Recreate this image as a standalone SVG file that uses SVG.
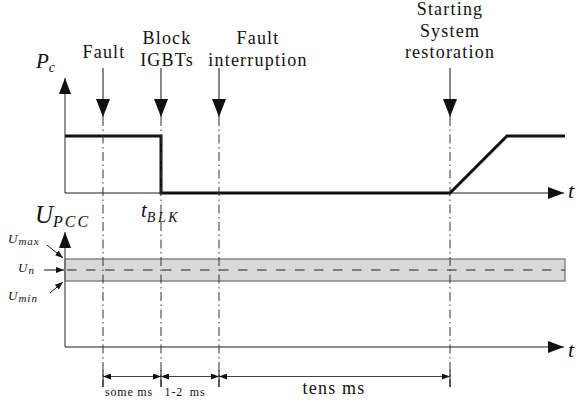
<svg xmlns="http://www.w3.org/2000/svg" width="582" height="405" viewBox="0 0 582 405">
<style>
.lbl{font-family:"Liberation Serif","Times New Roman",serif;font-size:18px;letter-spacing:1.2px;fill:#111;text-anchor:middle}
.math{font-family:"Liberation Serif","Times New Roman",serif;font-style:italic;fill:#111}
.axis{stroke:#666;stroke-width:1.4;fill:none}
.haxis{stroke:#222;stroke-width:1.1;fill:none}
.sig{stroke:#111;stroke-width:3;fill:none;stroke-linejoin:miter}
.evt{stroke:#111;stroke-width:1;fill:none}
.dd{stroke:#333;stroke-width:1;fill:none;stroke-dasharray:9 3.5 1.5 3.5}
.dim{stroke:#444;stroke-width:1.1;fill:none}
.small{font-family:"Liberation Serif","Times New Roman",serif;font-size:12px;letter-spacing:0.8px;fill:#111;text-anchor:middle}
</style>
<defs>
<marker id="mEvt" markerUnits="userSpaceOnUse" viewBox="0 0 18 14" refX="18" refY="7" markerWidth="18" markerHeight="14" orient="auto"><path d="M0,0 L18,7 L0,14 z" fill="#111"/></marker>
<marker id="mAx" markerUnits="userSpaceOnUse" viewBox="0 0 16 12" refX="16" refY="6" markerWidth="16" markerHeight="12" orient="auto"><path d="M0,0 L16,6 L0,12 z" fill="#111"/></marker>
<marker id="mSm" markerUnits="userSpaceOnUse" viewBox="0 0 8 6" refX="8" refY="3" markerWidth="8" markerHeight="6" orient="auto-start-reverse"><path d="M0,0 L8,3 L0,6 z" fill="#111"/></marker>
</defs>
<rect width="582" height="405" fill="#fff"/>

<g id="band">
<rect x="65" y="259" width="500" height="22" fill="#d9d9d9" stroke="#808080" stroke-width="1.4"/>
<line x1="66" y1="270" x2="565" y2="270" stroke="#222" stroke-width="1" stroke-dasharray="9.5 9.5" stroke-dashoffset="-1"/>
</g>

<g id="axes">
<line class="axis" x1="65" y1="193" x2="65" y2="78" marker-end="url(#mAx)"/>
<line class="haxis" x1="65" y1="193" x2="564" y2="193" marker-end="url(#mAx)"/>
<line class="axis" x1="65" y1="347" x2="65" y2="232" marker-end="url(#mAx)"/>
<line class="haxis" x1="65" y1="347" x2="564" y2="347" marker-end="url(#mAx)"/>
</g>

<g id="signal-pc">
<polyline class="sig" points="65,136 161,136 161,193 450,193 507,136 565,136"/>
</g>

<g id="event-lines">
<line class="dd" x1="103" y1="117" x2="103" y2="387"/>
<line class="dd" x1="161" y1="117" x2="161" y2="387"/>
<line class="dd" x1="219" y1="117" x2="219" y2="387"/>
<line class="dd" x1="450" y1="117" x2="450" y2="387"/>
<line class="evt" x1="103" y1="370" x2="103" y2="387"/>
<line class="evt" x1="161" y1="370" x2="161" y2="387"/>
<line class="evt" x1="219" y1="370" x2="219" y2="387"/>
<line class="evt" x1="450" y1="370" x2="450" y2="387"/>
</g>

<g id="connectors">
<line class="evt" x1="103" y1="68" x2="103" y2="117" marker-end="url(#mEvt)"/>
<line class="evt" x1="161" y1="68" x2="161" y2="117" marker-end="url(#mEvt)"/>
<line class="evt" x1="219" y1="68" x2="219" y2="117" marker-end="url(#mEvt)"/>
<line class="evt" x1="450" y1="68" x2="450" y2="117" marker-end="url(#mEvt)"/>
<line class="evt" x1="47" y1="245" x2="63" y2="258" marker-end="url(#mSm)"/>
<line class="evt" x1="44" y1="270" x2="64" y2="270" marker-end="url(#mSm)"/>
<line class="evt" x1="50" y1="293" x2="63" y2="282" marker-end="url(#mSm)"/>
<line class="dim" x1="103" y1="376.5" x2="161" y2="376.5" marker-start="url(#mSm)" marker-end="url(#mSm)"/>
<line class="dim" x1="161" y1="376.5" x2="219" y2="376.5" marker-start="url(#mSm)" marker-end="url(#mSm)"/>
<line class="dim" x1="219" y1="376.5" x2="450" y2="376.5" marker-start="url(#mSm)" marker-end="url(#mSm)"/>
</g>

<g id="fault">
<text class="lbl" x="104" y="58">Fault</text>
</g>
<g id="block-igbts">
<text class="lbl" x="167" y="44">Block</text>
<text class="lbl" x="167" y="66">IGBTs</text>
</g>
<g id="fault-interruption">
<text class="lbl" x="258" y="44">Fault</text>
<text class="lbl" x="258" y="66">interruption</text>
</g>
<g id="restoration">
<text class="lbl" x="450" y="15">Starting</text>
<text class="lbl" x="450" y="37">System</text>
<text class="lbl" x="450" y="58">restoration</text>
</g>

<g id="axis-labels">
<text class="math" x="36" y="68" font-size="21">P<tspan font-size="14" dy="4">c</tspan></text>
<text class="math" x="35" y="223" font-size="25">U<tspan font-size="16" dy="4" letter-spacing="2">PCC</tspan></text>
<text class="math" x="141" y="217" font-size="21">t<tspan font-size="14" dy="5" letter-spacing="2.5">BLK</tspan></text>
<text class="math" x="568" y="198" font-size="22">t</text>
<text class="math" x="568" y="357" font-size="22">t</text>
<text class="math" x="8" y="243" font-size="13" letter-spacing="1">U<tspan font-size="11" dy="2">max</tspan></text>
<text class="math" x="18" y="272" font-size="13" letter-spacing="1">U<tspan font-size="11" dy="2">n</tspan></text>
<text class="math" x="8" y="300" font-size="13" letter-spacing="1">U<tspan font-size="11" dy="2">min</tspan></text>
</g>

<g id="durations">
<text class="small" x="129" y="396">some ms</text>
<text class="small" x="185" y="396" letter-spacing="1.3" word-spacing="3">1-2 ms</text>
<text class="lbl" x="334" y="394">tens ms</text>
</g>
</svg>
